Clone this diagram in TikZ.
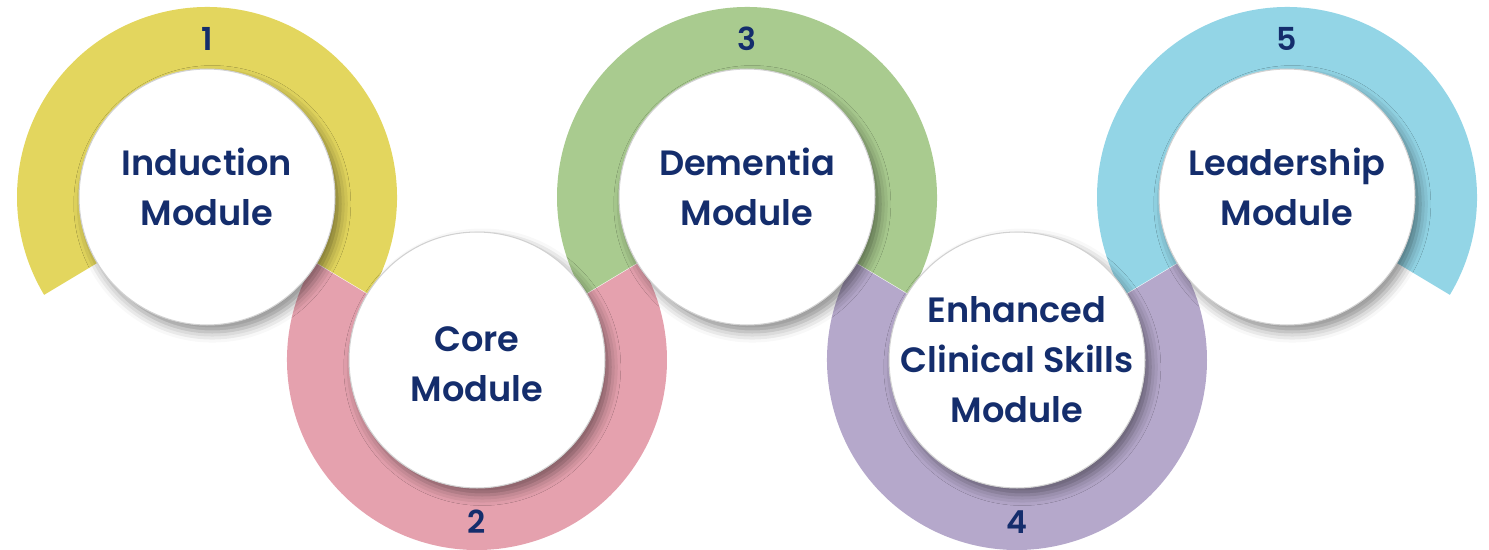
\documentclass[tikz,border=0pt]{standalone}
\usepackage{fontspec}
\setmainfont{Poppins}[BoldFont={Poppins SemiBold}]
\usetikzlibrary{calc,shadows.blur}
\definecolor{ringyellow}{RGB}{227,214,94}
\definecolor{ringpink}{RGB}{229,161,174}
\definecolor{ringgreen}{RGB}{169,203,143}
\definecolor{ringlilac}{RGB}{181,168,203}
\definecolor{ringblue}{RGB}{147,213,230}
\definecolor{navytext}{RGB}{20,45,108}
\tikzset{
  disc/.style={circle, fill=white, draw=black!18, line width=0.6pt,
    minimum size=5.12cm, inner sep=0pt,
    blur shadow={shadow xshift=3pt, shadow yshift=-4pt,
      shadow blur radius=6pt, shadow opacity=45}},
  modtext/.style={align=center, text=navytext,
    font=\fontsize{20}{28.5}\selectfont\bfseries},
  numtext/.style={text=navytext, font=\fontsize{18}{20}\selectfont\bfseries}
}
\begin{document}
\begin{tikzpicture}[x=0.02cm, y=0.02cm, line join=round]
\useasboundingbox (0,0) rectangle (1489,549);
\clip (0,0) rectangle (1489,549);
% ring centres
\coordinate (c1) at (207,352);
\coordinate (c2) at (477,189);
\coordinate (c3) at (747,352);
\coordinate (c4) at (1017,189);
\coordinate (c5) at (1287,352);
% coloured rings, open towards the next one
\fill[ringyellow] ($(c1)+(-31:190)$) arc[start angle=-31, end angle=211, radius=190]
  -- ($(c1)+(211:124)$) arc[start angle=211, end angle=-31, radius=124] -- cycle;
\fill[ringpink] ($(c2)+(149:190)$) arc[start angle=149, end angle=391, radius=190]
  -- ($(c2)+(31:124)$) arc[start angle=391, end angle=149, radius=124] -- cycle;
\fill[ringgreen] ($(c3)+(-31:190)$) arc[start angle=-31, end angle=211, radius=190]
  -- ($(c3)+(211:124)$) arc[start angle=211, end angle=-31, radius=124] -- cycle;
\fill[ringlilac] ($(c4)+(149:190)$) arc[start angle=149, end angle=391, radius=190]
  -- ($(c4)+(31:124)$) arc[start angle=391, end angle=149, radius=124] -- cycle;
\fill[ringblue] ($(c5)+(-31:190)$) arc[start angle=-31, end angle=211, radius=190]
  -- ($(c5)+(211:124)$) arc[start angle=211, end angle=-31, radius=124] -- cycle;
% step numbers
\node[numtext] (n1) at ($(c1)+(0,158)$) {1};
\node[numtext] (n2) at ($(c2)+(0,-162)$) {2};
\node[numtext] (n3) at ($(c3)+(0,158)$) {3};
\node[numtext] (n4) at ($(c4)+(0,-162)$) {4};
\node[numtext] (n5) at ($(c5)+(0,158)$) {5};
% white discs
\node[disc] (d1) at (c1) {};
\node[disc] (d2) at (c2) {};
\node[disc] (d3) at (c3) {};
\node[disc] (d4) at (c4) {};
\node[disc] (d5) at (c5) {};
\node[modtext] (induction) at ($(d1.center)+(0,10)$) {Induction\\Module};
\node[modtext] (core) at ($(d2.center)+(0,-4)$) {Core\\Module};
\node[modtext] (dementia) at ($(d3.center)+(0,10)$) {Dementia\\Module};
\node[modtext] (clinical) at (d4.center) {Enhanced\\Clinical Skills\\Module};
\node[modtext] (leadership) at ($(d5.center)+(0,10)$) {Leadership\\Module};
\end{tikzpicture}
\end{document}
